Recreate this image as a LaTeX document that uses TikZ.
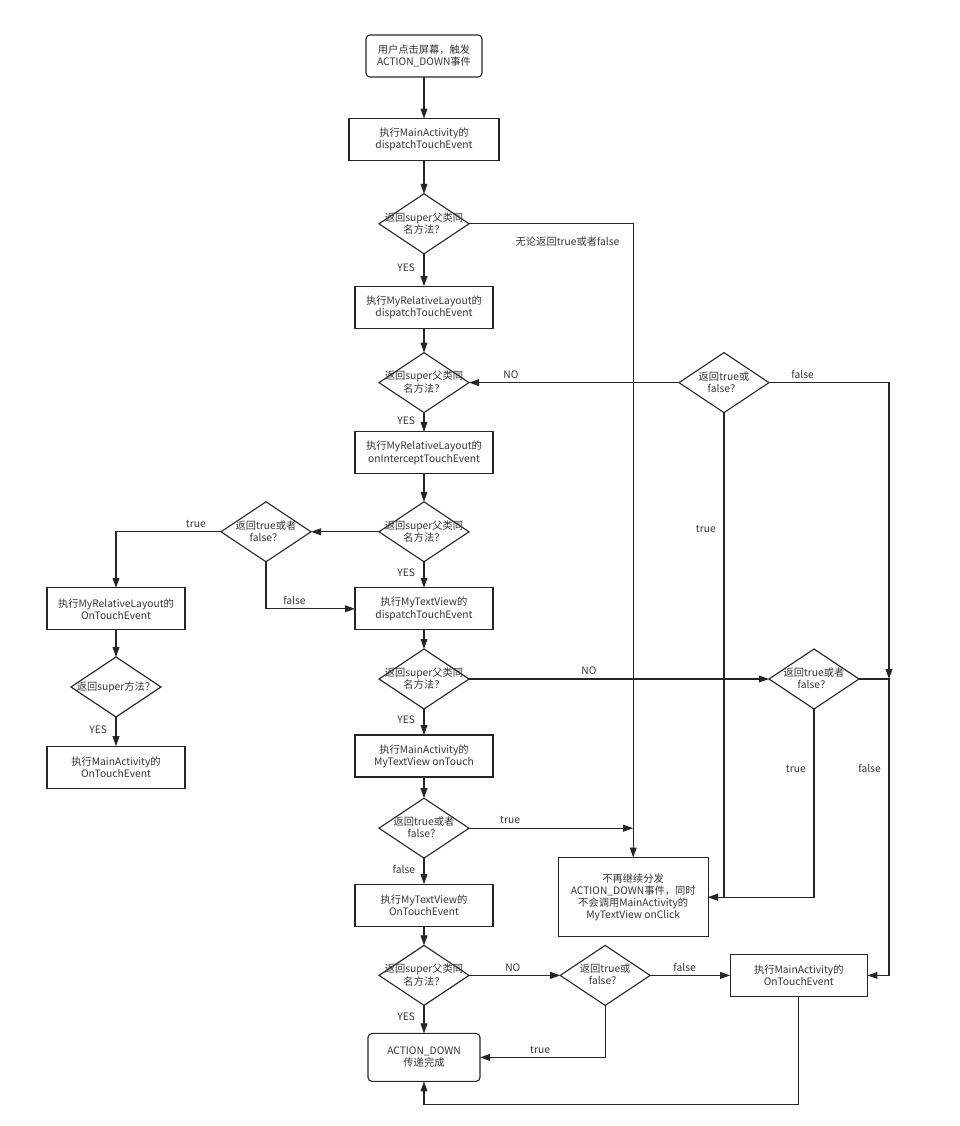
\documentclass[tikz,border=0pt]{standalone}
\usepackage{fontspec}
\setmainfont{Noto Sans CJK SC}
\usetikzlibrary{positioning, arrows.meta, shapes.geometric}

\newcommand{\qtext}[1]{\makebox[0pt]{\raisebox{-2.5pt}[0pt][0pt]{\begin{tabular}{@{}c@{}}#1\end{tabular}}}}

\begin{document}
\begin{tikzpicture}[
    font=\fontsize{7.3}{8.6}\selectfont,
    node distance=0.6cm and 1.5cm,
    process/.style={rectangle, draw=black!85, line width=0.8pt, outer sep=0pt,
                    minimum width=3.45cm, minimum height=1.05cm,
                    align=center, text=black!80, inner sep=2pt},
    terminal/.style={process, rounded corners=1mm, minimum width=2.9cm},
    decision/.style={diamond, draw=black!85, line width=0.8pt, outer sep=0pt,
                     minimum width=2.25cm, minimum height=1.5cm,
                     inner sep=0pt, text=black!80},
    arrow/.style={-{Triangle[length=2.5mm, width=1.7mm]}, line width=0.8pt, draw=black!85},
    answer/.style={text=black!80, inner sep=1.5pt}
]
\useasboundingbox (0,0) rectangle (24,-28.15);
% --- Columna principal ---
\node[terminal] (touch) at (10.6,-1.4) {用户点击屏幕，触发\\ACTION\_DOWN事件};
\node[process, minimum width=3.75cm, below=1.04cm of touch] (actDispatch) {执行MainActivity的\\dispatchTouchEvent};
\node[decision, below=0.83cm of actDispatch] (q1) {\qtext{返回super父类同\\名方法？}};
\node[process, below=0.81cm of q1] (layDispatch) {执行MyRelativeLayout的\\dispatchTouchEvent};
\node[decision, below=0.61cm of layDispatch] (q2) {\qtext{返回super父类同\\名方法？}};
\node[process, below=0.48cm of q2] (layIntercept) {执行MyRelativeLayout的\\onInterceptTouchEvent};
\node[decision, below=0.7cm of layIntercept] (q3) {\qtext{返回super父类同\\名方法？}};
\node[process, below=0.65cm of q3] (viewDispatch) {执行MyTextView的\\dispatchTouchEvent};
\node[decision, below=0.48cm of viewDispatch] (q4) {\qtext{返回super父类同\\名方法？}};
\node[process, below=0.65cm of q4] (onTouch) {执行MainActivity的\\MyTextView onTouch};
\node[decision, below=0.53cm of onTouch] (q5) {\qtext{返回true或者\\false？}};
\node[process, below=0.65cm of q5] (viewTouch) {执行MyTextView的\\OnTouchEvent};
\node[decision, below=0.48cm of viewTouch] (q6) {\qtext{返回super父类同\\名方法？}};
\node[terminal, minimum width=2.8cm, minimum height=1.2cm, below=0.7cm of q6] (done) {ACTION\_DOWN\\传递完成};
% --- Ramas laterales ---
\node[decision, right=5.25cm of q2] (r1) {\qtext{返回true或\\false？}};
\node[decision, left=1.7cm of q3] (l1) {\qtext{返回true或者\\false？}};
\node[process, left=4.25cm of viewDispatch] (layTouch) {执行MyRelativeLayout的\\OnTouchEvent};
\node[decision, below=0.68cm of layTouch] (l2) {\qtext{返回super方法？}};
\node[process, below=0.73cm of l2] (actTouchL) {执行MainActivity的\\OnTouchEvent};
\node[decision, right=7.5cm of q4] (r2) {\qtext{返回true或者\\false？}};
\node[process, minimum width=3.75cm, minimum height=1.98cm, right=1.63cm of viewTouch, yshift=0.2cm] (stop)
    {不再继续分发\\ACTION\_DOWN事件，同时\\不会调用MainActivity的\\MyTextView onClick};
\node[decision, right=2.28cm of q6] (r3) {\qtext{返回true或\\false？}};
\node[process, minimum width=3.43cm, right=2cm of r3] (actTouchR) {执行MainActivity的\\OnTouchEvent};
\coordinate[right=3cm of r1.east] (rail);
\coordinate[below=0.58cm of done.south] (back);
% --- Flechas ---
\foreach \a/\b in {touch/actDispatch, actDispatch/q1, layDispatch/q2, layIntercept/q3,
                   viewDispatch/q4, onTouch/q5, viewTouch/q6, layTouch/l2}
    \draw[arrow] (\a) -- (\b);
\foreach \a/\b/\t in {q1/layDispatch/YES, q2/layIntercept/YES, q3/viewDispatch/YES,
                      q4/onTouch/YES, q5/viewTouch/false, q6/done/YES, l2/actTouchL/YES}
    \draw[arrow] (\a) -- node[answer, left=4.5pt, pos=0.42] {\t} (\b);
\draw[arrow] (q1.east) -| node[answer, below=0.25cm, pos=0.3] {无论返回true或者false} (stop.north);
\draw[arrow] (r1.west) -- node[answer, above=1pt, pos=0.8] {NO} (q2.east);
\draw[arrow] (r1.east) -- node[answer, above=1pt, pos=0.28] {false} (rail) -- (r2.east -| rail);
\draw[arrow] (r1.south) |- node[answer, left=4pt, pos=0.12] {true} (stop.east);
\draw[arrow] (q3.west) -- (l1.east);
\draw[arrow] (l1.west) -| node[answer, above=1pt, pos=0.12] {true} (layTouch.north);
\draw[arrow] (l1.south) |- node[answer, above=1pt, pos=0.66] {false} (viewDispatch.west);
\draw[arrow] (q4.east) -- node[answer, above=1pt, pos=0.4] {NO} (r2.west);
\draw[arrow] (r2.south) |- node[answer, left=4pt, pos=0.16] {true} (stop.east);
\draw[arrow] (r2.east) -- (r2.east -| rail) -- node[answer, left=4pt, pos=0.3] {false} (actTouchR.east -| rail) -- (actTouchR.east);
\draw[arrow] (q5.east) -- node[answer, above=1pt, pos=0.25] {true} (q5.east -| stop.north);
\draw[arrow] (q6.east) -- node[answer, above=1pt, pos=0.48] {NO} (r3.west);
\draw[arrow] (r3.east) -- node[answer, above=1pt, pos=0.43] {false} (actTouchR.west);
\draw[arrow] (r3.south) |- node[answer, above=1pt, pos=0.76] {true} (done.east);
\draw[arrow] (actTouchR.south) |- (back) -- (done.south);
\end{tikzpicture}
\end{document}
